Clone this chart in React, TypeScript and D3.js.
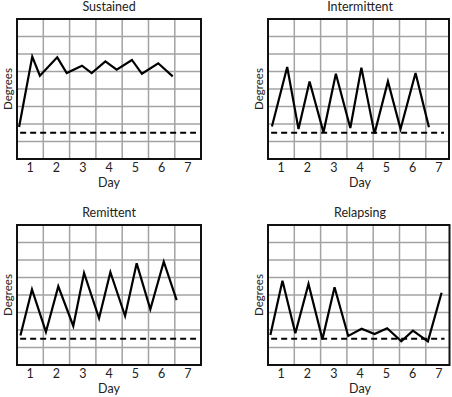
import React from 'react';
import { scaleLinear, line } from 'd3';

const width = 452;
const height = 397;

const days = ['1', '2', '3', '4', '5', '6', '7'];
const baseline = 1.5;

const sustainedX = [0.08, 0.58, 0.87, 1.53, 1.89, 2.47, 2.84, 3.36, 3.79, 4.37, 4.75, 5.37, 5.92];
const sustainedY = [1.83, 5.85, 4.76, 5.81, 4.91, 5.33, 4.91, 5.58, 5.1, 5.66, 4.87, 5.47, 4.72];

const intermittentX = [0.15, 0.73, 1.16, 1.58, 2.11, 2.58, 3.13, 3.55, 4.05, 4.56, 5.04, 5.61, 6.12];
const intermittentY = [1.86, 5.26, 1.71, 4.43, 1.52, 4.87, 1.77, 5.22, 1.45, 4.43, 1.71, 4.91, 1.81];

const remittentX = [0.13, 0.57, 1.1, 1.57, 2.14, 2.55, 3.12, 3.55, 4.11, 4.55, 5.07, 5.58, 6.07];
const remittentY = [1.68, 4.32, 1.89, 4.49, 2.23, 5.26, 2.67, 5.3, 2.8, 5.81, 3.18, 5.9, 3.71];

const relapsingX = [0.09, 0.55, 1.04, 1.54, 2.07, 2.53, 3.05, 3.56, 4.05, 4.53, 5.07, 5.51, 6.08, 6.6];
const relapsingY = [1.71, 4.82, 1.81, 4.63, 1.47, 4.44, 1.66, 2.07, 1.77, 2.1, 1.35, 1.96, 1.35, 4.13];

const panels = [
  { title: 'Sustained', xs: sustainedX, ys: sustainedY, left: 17, top: 19, right: 201 },
  { title: 'Intermittent', xs: intermittentX, ys: intermittentY, left: 268, top: 19, right: 449 },
  { title: 'Remittent', xs: remittentX, ys: remittentY, left: 17, top: 225, right: 201 },
  { title: 'Relapsing', xs: relapsingX, ys: relapsingY, left: 268, top: 225, right: 449.5 },
];

const colW = 26.3;
const rowH = 17.5;
const font = 'Lato, "Noto Sans", sans-serif';

const Panel = ({ p }) => {
  const innerW = colW * 7;
  const innerH = rowH * 8;
  const boxW = p.right - p.left;

  const xScale = scaleLinear().domain([0, 7]).range([0, innerW]);
  const yScale = scaleLinear().domain([0, 8]).range([innerH, 0]);

  const path = line()
    .x(d => xScale(d[0]))
    .y(d => yScale(d[1]))(p.xs.map((x, i) => [x, p.ys[i]]));

  return (
    <g transform={`translate(${p.left}, ${p.top})`}>
      <rect x={0} y={0} width={boxW} height={innerH} fill="white" />

      {xScale.ticks(7).filter(t => t > 0 && xScale(t) < boxW - 1).map(t => (
        <line key={'v' + t} x1={xScale(t)} x2={xScale(t)} y1={0} y2={innerH} stroke="#a3a3a3" strokeWidth={1.5} />
      ))}
      {yScale.ticks(8).filter(t => t > 0 && t < 8).map(t => (
        <line key={'h' + t} x1={0} x2={boxW} y1={yScale(t)} y2={yScale(t)} stroke="#a3a3a3" strokeWidth={1.5} />
      ))}

      <line
        x1={xScale(0.12)}
        x2={boxW - 5}
        y1={yScale(baseline)}
        y2={yScale(baseline)}
        stroke="black"
        strokeWidth={2}
        strokeDasharray="6,4"
      />

      <path d={path} fill="none" stroke="black" strokeWidth={2.2} strokeLinejoin="miter" />

      <rect x={0} y={0} width={boxW} height={innerH} fill="none" stroke="#111" strokeWidth={2} />

      {days.map((d, i) => (
        <text
          key={d}
          x={xScale(i + 0.5)}
          y={innerH + 13}
          textAnchor="middle"
          fontSize={12.5}
          fontFamily={font}
          fill="#222"
        >
          {d}
        </text>
      ))}
      <text x={xScale(3.5)} y={innerH + 28} textAnchor="middle" fontSize={12.5} fontFamily={font} fill="#222">
        Day
      </text>
      <text x={xScale(3.5)} y={-8} textAnchor="middle" fontSize={12.5} fontFamily={font} fill="#222">
        {p.title}
      </text>
      <text
        transform={`translate(-5, ${innerH / 2}) rotate(-90)`}
        textAnchor="middle"
        fontSize={11.5}
        fontFamily={font}
        fill="#222"
      >
        Degrees
      </text>
    </g>
  );
};

const App = () => (
  <svg width={width} height={height} style={{ display: 'block', position: 'absolute', left: 0, top: 0 }}>
    <rect width={width} height={height} fill="white" />
    {panels.map(p => (
      <Panel key={p.title} p={p} />
    ))}
  </svg>
);

export default App;
